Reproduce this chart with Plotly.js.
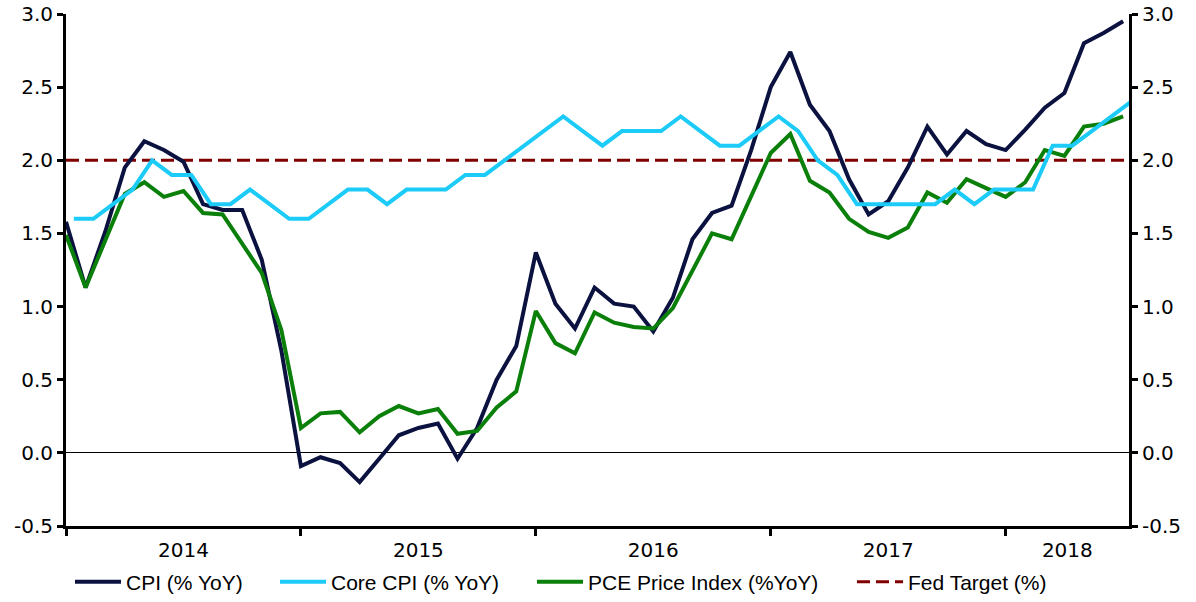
<!DOCTYPE html>
<html>
<head>
<meta charset="utf-8">
<script src="https://cdn.plot.ly/plotly-3.0.1.min.js"></script>
<style>html,body{margin:0;padding:0;background:#fff;}#chart{width:1196px;height:602px;}</style>
</head>
<body>
<div id="chart"></div>
<script>
// Monthly data, Jan 2014 .. Jul 2018
var yearLabels = ["2014", "2015", "2016", "2017", "2018"];

var cpi = [1.58,1.13,1.51,1.95,2.13,2.07,1.99,1.70,1.66,1.66,1.32,0.70,
  -0.09,-0.03,-0.07,-0.20,-0.04,0.12,0.17,0.20,-0.04,0.17,0.50,0.73,
  1.37,1.02,0.85,1.13,1.02,1.00,0.83,1.06,1.46,1.64,1.69,2.07,
  2.50,2.74,2.38,2.20,1.87,1.63,1.72,1.95,2.23,2.04,2.20,2.11,
  2.07,2.21,2.36,2.46,2.80,2.87,2.95];

var coreCpi = [1.6,1.6,1.7,1.8,2.0,1.9,1.9,1.7,1.7,1.8,1.7,1.6,
  1.6,1.7,1.8,1.8,1.7,1.8,1.8,1.8,1.9,1.9,2.0,2.1,
  2.2,2.3,2.2,2.1,2.2,2.2,2.2,2.3,2.2,2.1,2.1,2.2,
  2.3,2.2,2.0,1.9,1.7,1.7,1.7,1.7,1.7,1.8,1.7,1.8,
  1.8,1.8,2.1,2.1,2.2,2.3,2.4];

var pce = [1.49,1.13,1.45,1.77,1.85,1.75,1.79,1.64,1.63,1.43,1.23,0.84,
  0.17,0.27,0.28,0.14,0.25,0.32,0.27,0.30,0.13,0.15,0.31,0.42,
  0.97,0.75,0.68,0.96,0.89,0.86,0.85,0.99,1.24,1.50,1.46,1.75,
  2.05,2.18,1.86,1.78,1.60,1.51,1.47,1.54,1.78,1.71,1.87,1.81,
  1.75,1.85,2.07,2.03,2.23,2.25,2.30];

var fedTargetValue = 2.0;

var yTickVals = [-0.5, 0, 0.5, 1.0, 1.5, 2.0, 2.5, 3.0];
var yTickText = ["-0.5", "0.0", "0.5", "1.0", "1.5", "2.0", "2.5", "3.0"];

var seriesNames = ["CPI (% YoY)", "Core CPI (% YoY)", "PCE Price Index (%YoY)", "Fed Target (%)"];

// ---- build ----
var xMax = 54.3;
var idx = cpi.map(function(_, i){ return i; });
var coreShift = 0.4; // core series drawn on the secondary axis, slightly offset
var idxCore = coreCpi.map(function(_, i){ return i + coreShift; });
var fedX = idx.concat([xMax]);
var fed = fedX.map(function(){ return fedTargetValue; });

var yearStarts = yearLabels.map(function(_, k){ return k * 12; });
var yearMids = yearStarts.map(function(s){ return (s + Math.min(s + 12, xMax)) / 2; });

var axisFont = {family: "DejaVu Sans, Verdana, sans-serif", size: 20, color: "#000"};
var legFont = {family: "Liberation Sans, Arial, sans-serif", size: 21, color: "#000"};

function px2paper(px){ return (px - 66) / 1063; }
var legY = (526 - 582) / 512;
var legItemW = 46;

var traces = [
  {x: fedX, y: fed, name: seriesNames[3], type: "scatter", mode: "lines",
   line: {color: "#800000", width: 3, dash: "13px,6px"}, legend: "legend4", hoverinfo: "skip"},
  {x: idx, y: cpi, name: seriesNames[0], type: "scatter", mode: "lines",
   line: {color: "#0b1240", width: 4}, legend: "legend"},
  {x: idx, y: pce, name: seriesNames[2], type: "scatter", mode: "lines",
   line: {color: "#0a7f0a", width: 4}, legend: "legend3"},
  {x: idxCore, y: coreCpi, name: seriesNames[1], type: "scatter", mode: "lines", yaxis: "y2",
   line: {color: "#1ccbf7", width: 4}, legend: "legend2"}
];

var baseY = {
  range: [-0.5, 3.0], tickmode: "array", tickvals: yTickVals, ticktext: yTickText,
  ticks: "outside", ticklen: 6, tickwidth: 3, tickcolor: "#000",
  showline: true, linewidth: 3, linecolor: "#000", showgrid: false,
  tickfont: axisFont, fixedrange: true
};

function leg(px){
  return {x: px2paper(px - (legItemW - 30)), xanchor: "left", y: legY, yanchor: "middle", orientation: "h",
          font: legFont, bgcolor: "rgba(0,0,0,0)", borderwidth: 0, itemwidth: legItemW};
}

var layout = {
  width: 1196, height: 602,
  margin: {l: 66, r: 67, t: 14, b: 76, pad: 0, autoexpand: false},
  paper_bgcolor: "#fff", plot_bgcolor: "#fff",
  showlegend: true,
  xaxis: {
    range: [0, xMax], tickmode: "array", tickvals: yearMids, ticktext: yearLabels,
    ticks: "", showline: true, linewidth: 3, linecolor: "#000",
    showgrid: false, zeroline: false, tickfont: axisFont, ticklabelstandoff: 4,
    minor: {tickmode: "array", tickvals: yearStarts, ticks: "outside", ticklen: 7, tickwidth: 3, tickcolor: "#000", showgrid: false},
    fixedrange: true
  },
  yaxis: Object.assign({}, baseY, {zeroline: true, zerolinecolor: "#000", zerolinewidth: 1}),
  yaxis2: Object.assign({}, baseY, {overlaying: "y", side: "right", zeroline: false}),
  legend: leg(86),
  legend2: leg(291),
  legend3: leg(548),
  legend4: leg(868)
};

Plotly.newPlot("chart", traces, layout, {staticPlot: true, displayModeBar: false});
</script>
</body>
</html>
